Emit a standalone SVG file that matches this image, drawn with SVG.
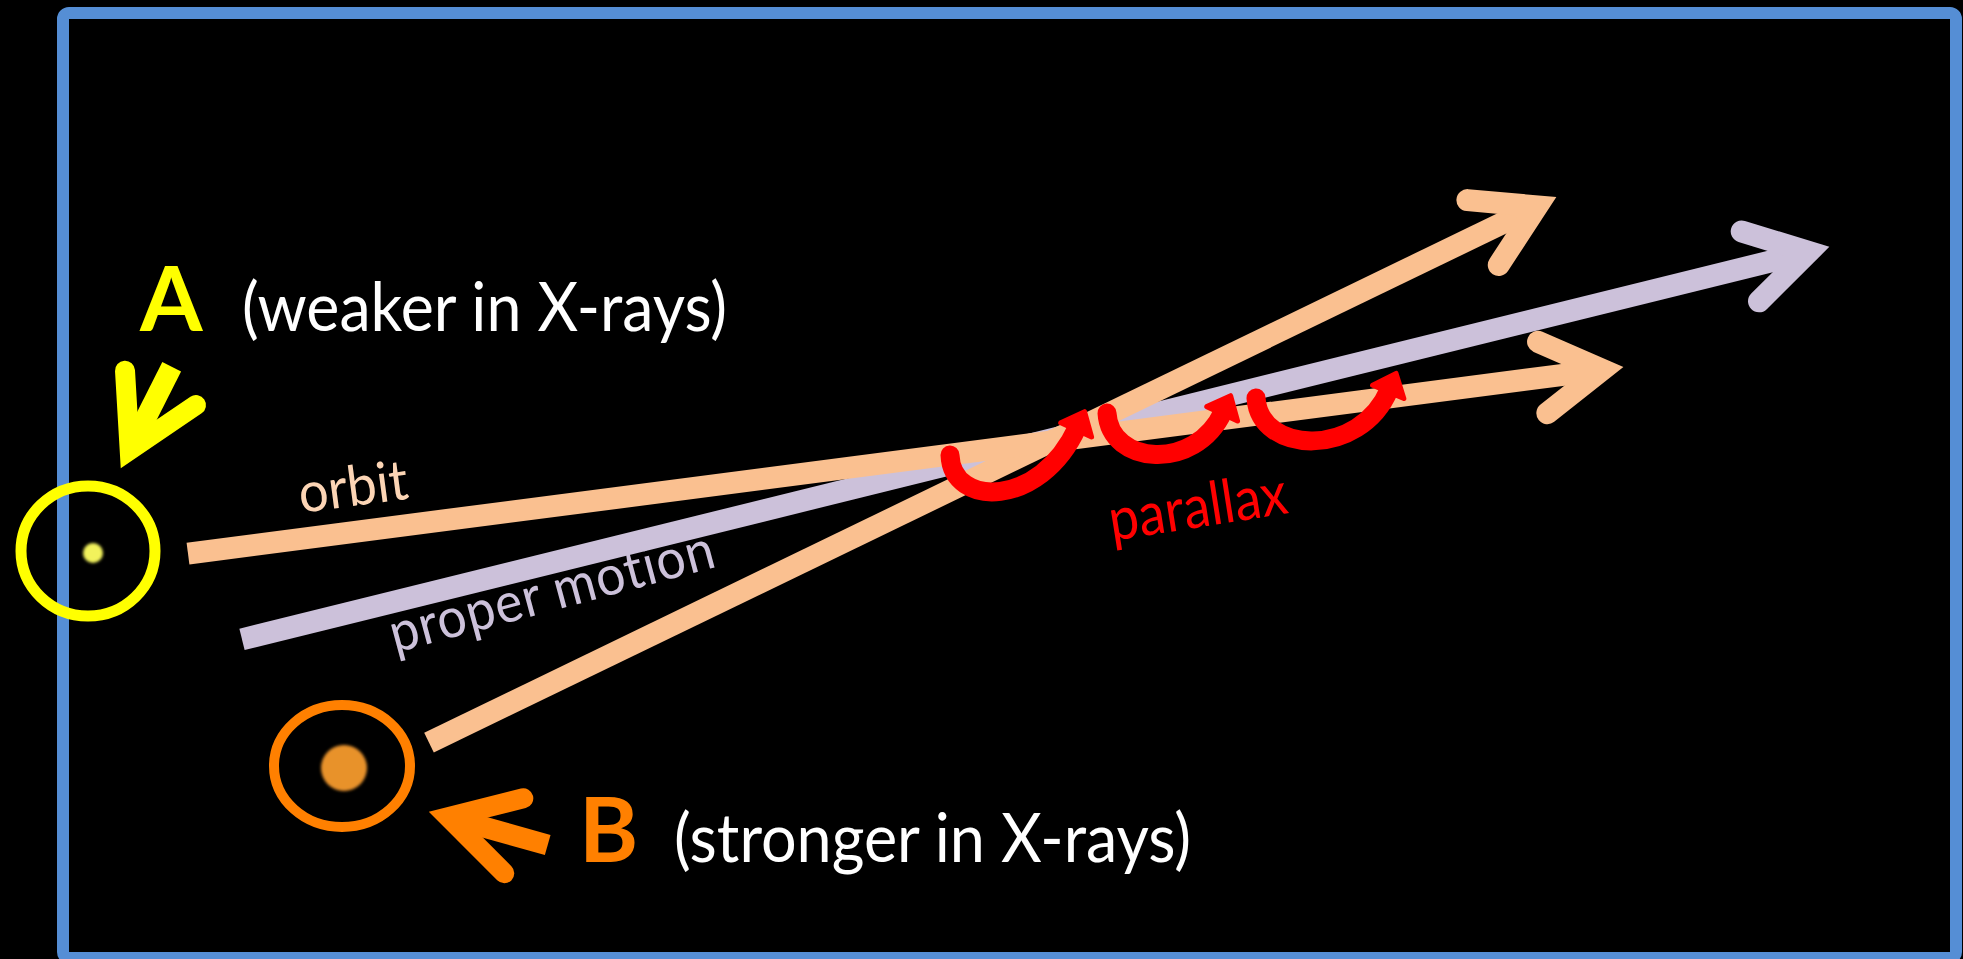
<svg xmlns="http://www.w3.org/2000/svg" width="1963" height="959" viewBox="0 0 1963 959">
<defs>
<style>
.lbl{font-family:Lato,"Open Sans","Liberation Sans",sans-serif;font-variant-ligatures:none;font-feature-settings:"liga" 0,"dlig" 0;}
.big{font-weight:bold;font-size:90px;}
.par{font-size:68px;fill:#FFFFFF;}
.sm{font-size:56px;}
.mline{fill:none;stroke-width:22;stroke-linecap:butt;}
.loop{fill:none;stroke:#FF0000;stroke-width:19;stroke-linecap:round;marker-end:url(#redHead);}
</style>
<marker id="orangeHead" markerUnits="userSpaceOnUse" orient="auto" refX="0" refY="0" markerWidth="200" markerHeight="200" viewBox="-100 -100 200 200" overflow="visible">
<path d="M-60,-36 L0,0 L-60,36" fill="none" stroke="#FAC090" stroke-width="22" stroke-linecap="round" stroke-linejoin="miter"/>
</marker>
<marker id="purpleHead" markerUnits="userSpaceOnUse" orient="auto" refX="0" refY="0" markerWidth="200" markerHeight="200" viewBox="-100 -100 200 200" overflow="visible">
<path d="M-60,-36 L0,0 L-60,36" fill="none" stroke="#CCC1DA" stroke-width="22" stroke-linecap="round" stroke-linejoin="miter"/>
</marker>
<marker id="redHead" markerUnits="userSpaceOnUse" orient="auto" refX="0" refY="0" markerWidth="60" markerHeight="60" viewBox="-30 -30 60 60" overflow="visible">
<path d="M-2,-17 L18,0 L-2,17 Z" fill="#FF0000" stroke="#FF0000" stroke-width="5" stroke-linejoin="round"/>
</marker>
<filter id="soft" x="-50%" y="-50%" width="200%" height="200%">
<feGaussianBlur stdDeviation="1.5"/>
</filter>
</defs>
<rect x="0" y="0" width="1963" height="959" fill="#000000"/>
<rect id="frame" x="63" y="13" width="1893" height="945" rx="6" fill="#000000" stroke="#558ED5" stroke-width="12"/>

<g id="connectors">
<line id="proper-motion" class="mline" x1="242" y1="639.4" x2="1808.6" y2="252" stroke="#CCC1DA" marker-end="url(#purpleHead)"/>
<line id="orbit-B" class="mline" x1="429" y1="742.6" x2="1537.1" y2="206.4" stroke="#FAC090" marker-end="url(#orangeHead)"/>
<line id="orbit-A" class="mline" x1="188" y1="553.6" x2="1602.2" y2="369.8" stroke="#FAC090" marker-end="url(#orangeHead)"/>
<g id="parallax-loops">
<path class="loop" d="M950,455 C952,508 1040,508 1077,428"/>
<path class="loop" d="M1107,413 C1110,465 1195,472 1223,412"/>
<path class="loop" d="M1256,398 C1260,455 1360,458 1389,390"/>
</g>
</g>

<g id="star-A">
<ellipse cx="88" cy="551" rx="67" ry="65" fill="none" stroke="#FFFF00" stroke-width="11"/>
<circle cx="93" cy="553" r="10" fill="#F2F25C" filter="url(#soft)"/>
</g>

<g id="pointer-A">
<line x1="129.7" y1="450" x2="171.7" y2="366.7" stroke="#FFFF00" stroke-width="21" stroke-linecap="butt"/>
<path d="M125,370.7 L129.7,450 L196,405" fill="none" stroke="#FFFF00" stroke-width="20" stroke-linecap="round" stroke-linejoin="miter"/>
</g>

<g id="label-A">
<text class="lbl big" x="140" y="331" fill="#FFFF00">A</text>
<text class="lbl par" x="242" y="331" textLength="485" lengthAdjust="spacingAndGlyphs">(weaker in X-rays)</text>
</g>

<g id="star-B">
<ellipse cx="342" cy="766" rx="68" ry="61" fill="none" stroke="#FF8000" stroke-width="10"/>
<circle cx="344" cy="768" r="23" fill="#E8922A" filter="url(#soft)"/>
</g>

<g id="pointer-B">
<line x1="448.3" y1="817.1" x2="547.7" y2="845" stroke="#FF8000" stroke-width="21" stroke-linecap="butt"/>
<path d="M523.3,798.3 L448.3,817.1 L504.3,873.3" fill="none" stroke="#FF8000" stroke-width="20" stroke-linecap="round" stroke-linejoin="miter"/>
</g>

<g id="label-B">
<text class="lbl big" x="579" y="862" fill="#FF8000">B</text>
<text class="lbl par" x="674" y="862" textLength="517" lengthAdjust="spacingAndGlyphs">(stronger in X-rays)</text>
</g>

<g id="label-orbit">
<text class="lbl sm" x="301" y="513" fill="#FCD5B5" transform="rotate(-7.5 301 513)" textLength="110" lengthAdjust="spacingAndGlyphs">orbit</text>
</g>
<g id="label-proper-motion">
<text class="lbl sm" x="395" y="653" fill="#CCC1DA" letter-spacing="1" transform="rotate(-15 395 653)" textLength="335" lengthAdjust="spacingAndGlyphs">proper motion</text>
</g>
<g id="label-parallax">
<text class="lbl" x="1112" y="541" font-size="60" fill="#FF0000" transform="rotate(-9 1112 541)" textLength="180" lengthAdjust="spacingAndGlyphs">parallax</text>
</g>
</svg>
